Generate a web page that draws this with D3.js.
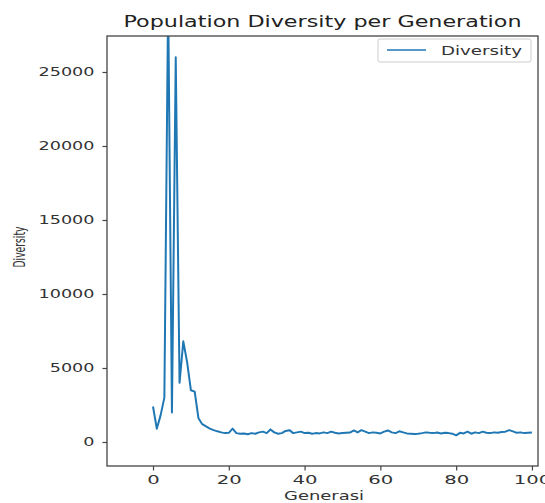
<!DOCTYPE html>
<html><head><meta charset="utf-8">
<script src="https://cdn.jsdelivr.net/npm/d3@7"></script>
<style>body{margin:0;background:#fff}text{font-family:"DejaVu Sans",sans-serif}</style>
</head><body><svg id="c" width="545" height="503"></svg>
<script>
const generations = d3.range(0, 101);
const diversity = [
 2400, 900, 1800, 3000, 30000, 2000, 26000, 4000, 6800, 5400,
 3500, 3400, 1600, 1200, 1050, 900, 800, 720, 650, 600,
 620, 900, 600, 550, 580, 520, 600, 560, 650, 700,
 600, 850, 650, 560, 600, 750, 800, 600, 650, 700,
 600, 620, 560, 600, 580, 650, 600, 700, 620, 580,
 600, 620, 640, 780, 650, 800, 700, 600, 650, 620,
 580, 700, 780, 650, 600, 720, 650, 580, 560, 540,
 560, 600, 650, 620, 600, 640, 580, 620, 600, 560,
 450, 620, 580, 700, 560, 650, 600, 700, 620, 600,
 650, 620, 680, 700, 800, 720, 620, 650, 600, 620, 640
];
const yTicks = [0, 5000, 10000, 15000, 20000, 25000];
const xTicks = [0, 20, 40, 60, 80, 100];
const title = "Population Diversity per Generation";
const xLabel = "Generasi";
const yLabel = "Diversity";
const seriesName = "Diversity";

const L = 107, R = 538, T = 36, B = 466;
const svg = d3.select("#c");
const x = d3.scaleLinear().domain([-12.14, 101.6]).range([L, R]);
const y = d3.scaleLinear().domain([-1622, 27432]).range([B, T]);
const color = "#1f77b4";
const axisCol = "#444";

function fitChars(sel, perChar) {
  sel.each(function() {
    const n = this.textContent.length;
    d3.select(this).attr("textLength", n * perChar).attr("lengthAdjust", "spacingAndGlyphs");
  });
}

svg.append("clipPath").attr("id", "clip").append("rect")
  .attr("x", L).attr("y", T).attr("width", R - L).attr("height", B - T);

svg.append("path").datum(generations)
  .attr("clip-path", "url(#clip)")
  .attr("fill", "none").attr("stroke", color).attr("stroke-width", 2)
  .attr("stroke-linejoin", "round")
  .attr("d", d3.line().x(d => x(d)).y(d => y(diversity[d])));

svg.append("rect").attr("x", L).attr("y", T).attr("width", R - L).attr("height", B - T)
  .attr("fill", "none").attr("stroke", axisCol).attr("stroke-width", 1.3);

const yAxis = svg.append("g").attr("transform", `translate(${L},0)`)
  .call(d3.axisLeft(y).tickValues(yTicks).tickSize(4.5).tickPadding(8).tickFormat(d3.format("d")));
const xAxis = svg.append("g").attr("transform", `translate(0,${B})`)
  .call(d3.axisBottom(x).tickValues(xTicks).tickSize(4.5).tickPadding(5).tickFormat(d3.format("d")));
[yAxis, xAxis].forEach(a => {
  a.select(".domain").remove();
  a.selectAll(".tick line").attr("stroke", axisCol).attr("stroke-width", 1.2);
  a.selectAll(".tick text").attr("fill", "#333").attr("font-size", 11.5)
    .attr("font-family", "DejaVu Sans");
});
fitChars(yAxis.selectAll(".tick text"), 11.2);
fitChars(xAxis.selectAll(".tick text"), 12.5);

svg.append("text").attr("x", (L + R) / 2).attr("y", 27).attr("text-anchor", "middle")
  .attr("font-size", 15).attr("fill", "#222").text(title)
  .attr("textLength", 398).attr("lengthAdjust", "spacingAndGlyphs");

svg.append("text").attr("x", 324).attr("y", 500).attr("text-anchor", "middle")
  .attr("font-size", 11.5).attr("fill", "#333").text(xLabel)
  .attr("textLength", 80).attr("lengthAdjust", "spacingAndGlyphs");

svg.append("text").attr("transform", "translate(25,247) rotate(-90) scale(1,1.5)")
  .attr("text-anchor", "middle").attr("font-size", 10).attr("fill", "#333").text(yLabel)
  .attr("textLength", 41).attr("lengthAdjust", "spacingAndGlyphs");

const lg = svg.append("g");
lg.append("rect").attr("x", 378).attr("y", 39).attr("width", 153).attr("height", 23).attr("rx", 2)
  .attr("fill", "#fff").attr("stroke", "#ccc").attr("stroke-width", 1);
lg.append("line").attr("x1", 387).attr("x2", 426).attr("y1", 50).attr("y2", 50)
  .attr("stroke", color).attr("stroke-width", 1.6);
lg.append("text").attr("x", 441).attr("y", 54.5).attr("font-size", 11.5).attr("fill", "#333")
  .text(seriesName).attr("textLength", 81).attr("lengthAdjust", "spacingAndGlyphs");
</script></body></html>
